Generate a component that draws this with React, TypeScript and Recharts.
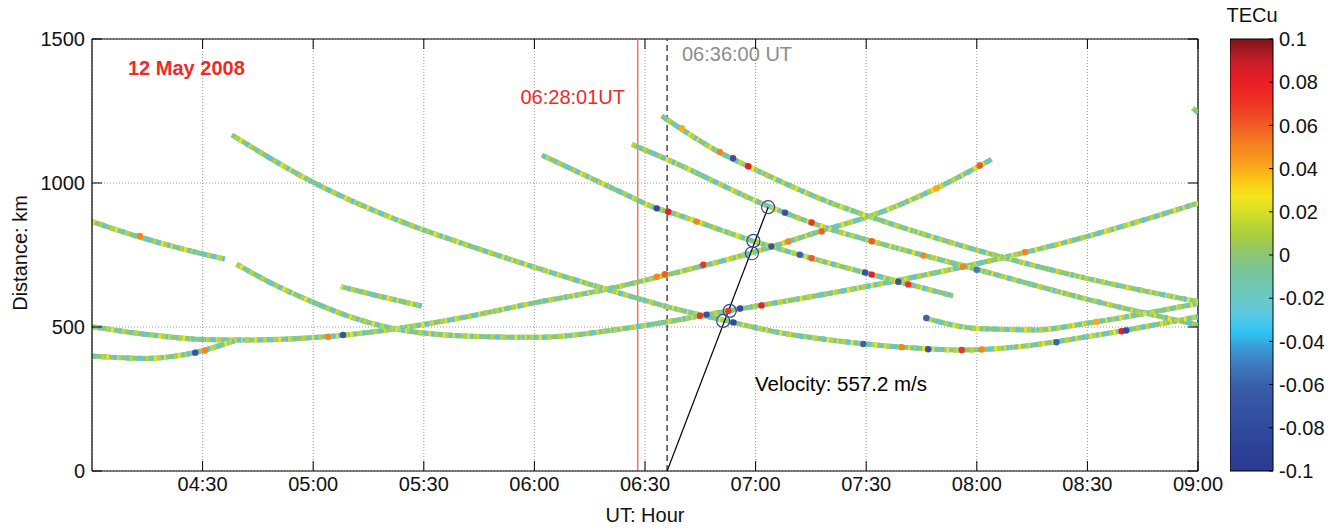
import React from "react";
import {
  CartesianGrid,
  ComposedChart,
  Line,
  ReferenceArea,
  ReferenceLine,
  Scatter,
  XAxis,
  YAxis,
} from "recharts";

const PLOT_TOP = 39;
const PLOT_BOTTOM = 471;
const PLOT_LEFT = 92;
const PLOT_RIGHT = 1198;
const FONT = "'Liberation Sans', Arial, Helvetica, sans-serif";

// satellite tracks: [time in minutes UT, distance in km]
const track1 = [[240, 866], [252, 816], [264, 773], [276, 736]];
const trackA = [
  [240, 501], [255, 474], [269.7, 457], [283, 455], [301.3, 464], [323, 495], [341, 534],
  [359.6, 583], [379.6, 631], [395.9, 681], [418.5, 756], [440.2, 843], [451, 885],
  [469.1, 982], [484, 1082],
];
const trackA2 = [[240, 399], [254.4, 391], [268.8, 414], [274.3, 434], [279.6, 457]];
const trackB = [
  [277.9, 1167], [299.6, 1005], [328.4, 844], [341, 788], [359.7, 709], [379.6, 631],
  [395.9, 571], [411.2, 524], [427.5, 478], [440.2, 455], [464.6, 426], [476.3, 420],
  [491.7, 432], [509.8, 466], [540, 536],
];
const trackC = [
  [279.2, 718], [288.7, 652], [299.6, 588], [309.5, 538], [319.5, 501], [341, 469],
  [359.6, 464], [387.7, 501], [411.2, 553], [440.2, 617], [476.3, 709], [509.8, 814],
  [540, 930],
];
const trackD = [[307.5, 640], [318.6, 605], [329.4, 573]];
const trackE = [
  [362, 1097], [383.2, 970], [393.2, 912], [396.3, 900], [418.5, 802], [440.2, 721],
  [451, 684], [473.6, 608],
];
const trackF = [
  [386.4, 1134], [396, 1082], [423, 922], [440.2, 840], [451, 800], [480, 700],
  [509.8, 597], [540, 507],
];
const trackG = [
  [394.5, 1233], [410.3, 1106], [418.5, 1055], [440.2, 932], [451, 883], [480, 767],
  [509.8, 669], [540, 588],
];
const trackH = [[466.3, 530], [480, 495], [496.2, 490], [509.8, 513], [540, 582]];
const trackI = [[538.6, 1260], [540, 1244]];

const tracks = [track1, trackA, trackA2, trackB, trackC, trackD, trackE, trackF, trackG, trackH, trackI];

// strong TEC perturbations along the tracks: [minutes, km, TECu]
const hotspots = [
  [253, 816, 0.05], [268, 411, -0.07], [270.6, 418, 0.05], [304.1, 466, 0.05], [308.1, 472, -0.07],
  [393.2, 675, 0.05], [395.4, 683, 0.06], [405.8, 716, 0.07], [428.9, 797, 0.05], [437.9, 832, 0.06],
  [480.8, 1061, 0.06], [469.1, 982, 0.04],
  [400, 1190, 0.04], [410.3, 1108, 0.05], [413.9, 1086, -0.07], [418, 1058, 0.08],
  [393.2, 912, -0.08], [396.3, 900, 0.08], [404, 866, 0.05], [424.3, 780, -0.07],
  [432, 751, -0.06], [435.2, 739, 0.06], [449.7, 689, -0.07], [451.5, 682, 0.08],
  [458.7, 657, -0.07], [461.4, 648, 0.07],
  [428, 897, -0.07], [435.2, 863, 0.07], [451.5, 798, 0.06], [465.5, 748, 0.05], [480, 699, -0.05],
  [404.9, 539, 0.07], [406.7, 543, -0.07], [412.6, 556, 0.07], [415.8, 564, -0.08],
  [421.6, 575, 0.08], [476.3, 709, 0.05], [493, 760, 0.05],
  [414, 516, -0.08], [449.2, 441, -0.06], [459.6, 430, 0.05], [466.8, 423, -0.07],
  [475.9, 420, 0.07], [481.3, 422, 0.05], [501.6, 447, -0.06], [519.3, 485, 0.08],
  [520.5, 488, -0.08],
  [466.3, 531, -0.06], [512.5, 518, 0.04],
];

const velocityLine = [[396, 0], [423.4, 916]];
const velocityCircles = [[423.4, 916], [419.4, 799], [419, 756], [413, 556], [411.2, 521]];

const timeTicks = [270, 300, 330, 360, 390, 420, 450, 480, 510, 540];
const kmTicks = [0, 500, 1000, 1500];
const tecTicks = [-0.1, -0.08, -0.06, -0.04, -0.02, 0, 0.02, 0.04, 0.06, 0.08, 0.1];

const tecStops: [number, string][] = [
  [-0.1, "#2b3990"], [-0.08, "#2f4a9e"], [-0.062, "#3a5ba8"], [-0.05, "#3e7cc1"],
  [-0.043, "#3a9ad6"], [-0.036, "#2ec5f2"], [-0.028, "#58c8e4"], [-0.02, "#6ccac4"],
  [-0.008, "#78c59c"], [0, "#8cc575"], [0.01, "#acd03c"], [0.02, "#d5df26"],
  [0.027, "#f4e71b"], [0.035, "#fcc515"], [0.042, "#f9a11b"], [0.05, "#f6851f"],
  [0.06, "#f15b25"], [0.07, "#ee3524"], [0.08, "#ec1d25"], [0.09, "#c41e2a"], [0.1, "#7c1416"],
];

const hex = (c: string) => [1, 3, 5].map((i) => parseInt(c.slice(i, i + 2), 16));

const tecColor = (v: number) => {
  for (let i = 1; i < tecStops.length; i++) {
    const [v1, c1] = tecStops[i];
    if (v <= v1) {
      const [v0, c0] = tecStops[i - 1];
      const f = Math.max(0, (v - v0) / (v1 - v0));
      const a = hex(c0);
      const b = hex(c1);
      return `rgb(${a.map((x, k) => Math.round(x + (b[k] - x) * f)).join(",")})`;
    }
  }
  return tecStops[tecStops.length - 1][1];
};

const toPts = (arr: number[][]) => arr.map(([t, km]) => ({ t, km }));

const fmtTime = (v: number) =>
  `${String(Math.floor(v / 60)).padStart(2, "0")}:${String(Math.round(v % 60)).padStart(2, "0")}`;

// speckled look of the TEC tracks
const speckles = [
  { color: "#6cc6bd", dash: "5 6 3 9", offset: 2 },
  { color: "#ebe31f", dash: "3 7 2 12", offset: 0 },
  { color: "#b7d340", dash: "4 13 3 8", offset: 9 },
  { color: "#5cc4dc", dash: "2 23 3 19", offset: 14 },
];

const XTick = (p: any) => {
  const x = p.x;
  return (
    <g>
      <line x1={x} x2={x} y1={PLOT_BOTTOM} y2={PLOT_BOTTOM - 10} stroke="#000" />
      <line x1={x} x2={x} y1={PLOT_TOP} y2={PLOT_TOP + 10} stroke="#000" />
      <text x={x} y={491} textAnchor="middle" fontFamily={FONT} fontSize={20} fill="#111">
        {fmtTime(p.payload.value)}
      </text>
    </g>
  );
};

const YTick = (p: any) => {
  const y = p.y;
  return (
    <g>
      <line x1={PLOT_LEFT} x2={PLOT_LEFT + 10} y1={y} y2={y} stroke="#000" />
      <line x1={PLOT_RIGHT} x2={PLOT_RIGHT - 10} y1={y} y2={y} stroke="#000" />
      <text x={85} y={y} dy="0.36em" textAnchor="end" fontFamily={FONT} fontSize={20} fill="#111">
        {p.payload.value}
      </text>
    </g>
  );
};

const CbTick = (p: any) => {
  const y = p.y;
  return (
    <g>
      <line x1={43} x2={39} y1={y} y2={y} stroke="#000" />
      <text x={49} y={y} dy="0.36em" textAnchor="start" fontFamily={FONT} fontSize={20} fill="#111">
        {String(Number(p.payload.value.toFixed(2)))}
      </text>
    </g>
  );
};

const Dot = (p: any) => <circle cx={p.cx} cy={p.cy} r={3.2} fill={tecColor(p.payload.tec)} />;
const Ring = (p: any) => (
  <circle cx={p.cx} cy={p.cy} r={6.5} fill="none" stroke="#33449c" strokeWidth={1.2} />
);

function Colorbar() {
  return (
    <div style={{ position: "absolute", left: 1230, top: 0, width: 112, height: 530 }}>
      <ComposedChart
        width={112}
        height={530}
        data={[{ x: 0, v: -0.1 }, { x: 1, v: 0.1 }]}
        margin={{ top: 39, right: 0, bottom: 59, left: 0 }}
      >
        <defs>
          <linearGradient id="jet" x1="0" y1="1" x2="0" y2="0">
            {tecStops.map(([v, c]) => (
              <stop key={v} offset={(v + 0.1) / 0.2} stopColor={c} />
            ))}
          </linearGradient>
        </defs>
        <XAxis type="number" dataKey="x" domain={[0, 1]} hide />
        <YAxis
          type="number"
          dataKey="v"
          orientation="right"
          domain={[-0.1, 0.1]}
          ticks={tecTicks}
          width={69}
          axisLine={false}
          tickLine={false}
          tick={<CbTick />}
        />
        <ReferenceArea
          x1={0}
          x2={1}
          y1={-0.1}
          y2={0.1}
          fill="url(#jet)"
          fillOpacity={1}
          stroke="#000"
          strokeWidth={1}
        />
      </ComposedChart>
    </div>
  );
}

export default function App() {
  return (
    <div style={{ position: "absolute", left: 0, top: 0, width: 1342, height: 530, background: "#fff" }}>
      <ComposedChart
        width={1342}
        height={530}
        margin={{ top: PLOT_TOP, right: 1342 - PLOT_RIGHT, bottom: 29, left: 32 }}
      >
        <CartesianGrid stroke="#9a9a9a" strokeDasharray="1 2" />
        <XAxis
          type="number"
          dataKey="t"
          domain={[240, 540]}
          ticks={timeTicks}
          height={30}
          axisLine={{ stroke: "#000", strokeWidth: 1.2 }}
          tickLine={false}
          tick={<XTick />}
          allowDataOverflow
        />
        <YAxis
          type="number"
          dataKey="km"
          domain={[0, 1500]}
          ticks={kmTicks}
          width={60}
          axisLine={{ stroke: "#000", strokeWidth: 1.2 }}
          tickLine={false}
          tick={<YTick />}
          allowDataOverflow
        />
        <ReferenceLine y={1500} stroke="#000" strokeWidth={1.2} />
        <ReferenceLine x={540} stroke="#000" strokeWidth={1.2} />
        <ReferenceLine x={388.02} stroke="#ef7565" strokeWidth={1.5} />
        <ReferenceLine x={396} stroke="#555" strokeWidth={1.6} strokeDasharray="6 4" />

        {tracks.map((tr, i) => (
          <Line
            key={`base${i}`}
            data={toPts(tr)}
            dataKey="km"
            type="monotone"
            stroke="#8ac77c"
            strokeWidth={5}
            dot={false}
            activeDot={false}
            isAnimationActive={false}
          />
        ))}
        {tracks.map((tr, i) =>
          speckles.map((s, j) => (
            <Line
              key={`sp${i}-${j}`}
              data={toPts(tr)}
              dataKey="km"
              type="monotone"
              stroke={s.color}
              strokeWidth={5}
              strokeDasharray={s.dash}
              strokeDashoffset={s.offset + i * 5}
              dot={false}
              activeDot={false}
              isAnimationActive={false}
            />
          ))
        )}

        <Scatter
          data={hotspots.map(([t, km, tec]) => ({ t, km, tec }))}
          shape={<Dot />}
          isAnimationActive={false}
        />
        <Line
          data={toPts(velocityLine)}
          dataKey="km"
          type="linear"
          stroke="#000"
          strokeWidth={1.2}
          dot={false}
          activeDot={false}
          isAnimationActive={false}
        />
        <Scatter data={toPts(velocityCircles)} shape={<Ring />} isAnimationActive={false} />

        <text x={128} y={75} fontFamily={FONT} fontSize={20} fontWeight="bold" fill="#ee2a24">
          12 May 2008
        </text>
        <text x={625} y={104} textAnchor="end" fontFamily={FONT} fontSize={20} fill="#ee2a24">
          06:28:01UT
        </text>
        <text x={682} y={61} fontFamily={FONT} fontSize={20} fill="#8c8c8c">
          06:36:00 UT
        </text>
        <text x={755} y={391} fontFamily={FONT} fontSize={20.5} fill="#000">
          Velocity: 557.2 m/s
        </text>
        <text x={645} y={522} textAnchor="middle" fontFamily={FONT} fontSize={20} fill="#111">
          UT: Hour
        </text>
        <text
          x={27}
          y={253}
          textAnchor="middle"
          transform="rotate(-90, 27, 253)"
          fontFamily={FONT}
          fontSize={20}
          fill="#111"
        >
          Distance: km
        </text>
        <text x={1252} y={22} textAnchor="middle" fontFamily={FONT} fontSize={20} fill="#111">
          TECu
        </text>
      </ComposedChart>
      <Colorbar />
    </div>
  );
}
